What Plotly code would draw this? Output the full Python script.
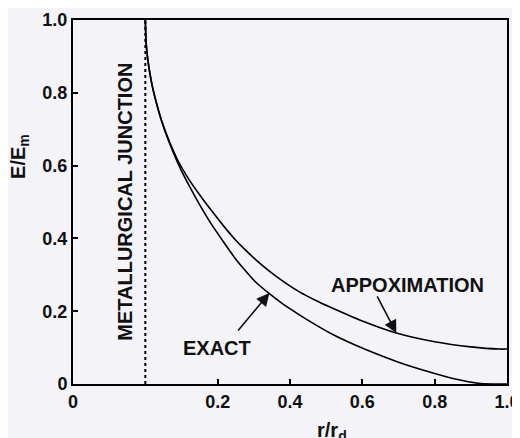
import plotly.graph_objects as go

# data (x in r/r_d measured from the junction; axis shown from -0.2 labelled "0")
x_exact = [0.0, 0.002, 0.006, 0.012, 0.02, 0.03, 0.045, 0.065, 0.09, 0.12, 0.15, 0.184, 0.215,
           0.247, 0.275, 0.302, 0.343, 0.38, 0.426, 0.47, 0.509, 0.56, 0.611, 0.70, 0.793,
           0.86, 0.92, 0.96, 1.0]
y_exact = [1.0, 0.94, 0.898, 0.857, 0.815, 0.774, 0.722, 0.666, 0.607, 0.547, 0.493, 0.437, 0.392,
           0.347, 0.313, 0.283, 0.248, 0.220, 0.190, 0.163, 0.141, 0.116, 0.094, 0.060, 0.031,
           0.013, 0.002, 0.0, 0.0]

x_approx = [0.0, 0.002, 0.006, 0.012, 0.02, 0.03, 0.045, 0.065, 0.09, 0.12, 0.15, 0.184, 0.219,
            0.25, 0.28, 0.316, 0.36, 0.426, 0.47, 0.509, 0.60, 0.694, 0.80, 0.90, 0.978, 1.0]
y_approx = [1.0, 0.94, 0.898, 0.857, 0.815, 0.775, 0.724, 0.670, 0.614, 0.563, 0.520, 0.475, 0.431,
            0.395, 0.365, 0.332, 0.297, 0.253, 0.230, 0.212, 0.173, 0.140, 0.116, 0.102, 0.096, 0.096]

junction_x = [0.0, 0.0]
junction_y = [0.0, 1.0]

x_tickvals = [-0.2, 0.2, 0.4, 0.6, 0.8, 1.0]
x_ticktext = ["0", "0.2", "0.4", "0.6", "0.8", "1.0"]
y_tickvals = [0, 0.2, 0.4, 0.6, 0.8, 1.0]
y_ticktext = ["0", "0.2", "0.4", "0.6", "0.8", "1.0"]

FONT = "Liberation Sans, Arial, sans-serif"
BG = "#f3f3f8"

fig = go.Figure()
fig.add_trace(go.Scatter(x=junction_x, y=junction_y, mode="lines",
                         line=dict(color="black", width=2, dash="dot"), showlegend=False))
fig.add_trace(go.Scatter(x=x_exact, y=y_exact, mode="lines",
                         line=dict(color="black", width=1.6, shape="spline", smoothing=0.6),
                         showlegend=False))
fig.add_trace(go.Scatter(x=x_approx, y=y_approx, mode="lines",
                         line=dict(color="black", width=1.6, shape="spline", smoothing=0.6),
                         showlegend=False))

bold = dict(family=FONT, size=20, color="#111111", weight="bold")

fig.add_annotation(x=-0.057, y=0.5, xref="x", yref="y", text="METALLURGICAL JUNCTION",
                   textangle=-90, showarrow=False, font=bold)
fig.add_annotation(x=0.198, y=0.099, xref="x", yref="y", text="EXACT",
                   showarrow=False, font=bold)
fig.add_annotation(x=0.724, y=0.272, xref="x", yref="y", text="APPOXIMATION",
                   showarrow=False, font=bold)
# arrows
fig.add_annotation(x=0.343, y=0.25, ax=0.253, ay=0.143, xref="x", yref="y",
                   axref="x", ayref="y", text="", showarrow=True,
                   arrowhead=2, arrowsize=1.6, arrowwidth=1.6, arrowcolor="#111111")
fig.add_annotation(x=0.694, y=0.14, ax=0.639, ay=0.245, xref="x", yref="y",
                   axref="x", ayref="y", text="", showarrow=True,
                   arrowhead=2, arrowsize=1.6, arrowwidth=1.6, arrowcolor="#111111")
# axis titles
fig.add_annotation(x=-0.122, y=0.624, xref="paper", yref="paper", text="E/E<sub>m</sub>",
                   textangle=-90, showarrow=False, font=bold, xanchor="center", yanchor="middle")
fig.add_annotation(x=0.597, y=-0.092, xref="paper", yref="paper", text="r/r<sub>d</sub>",
                   showarrow=False, font=bold, xanchor="center", yanchor="top")

axis_common = dict(showgrid=False, zeroline=False, showline=True, linecolor="black",
                   linewidth=2, mirror=True, ticks="inside", ticklen=5, tickwidth=1.5,
                   tickcolor="black", automargin=False,
                   tickfont=dict(family=FONT, size=18, color="#111111", weight="bold"))

fig.update_xaxes(range=[-0.2, 1.0], tickvals=x_tickvals, ticktext=x_ticktext, **axis_common)
fig.update_yaxes(range=[0, 1.0], tickvals=y_tickvals, ticktext=y_ticktext, **axis_common)

# page body adds an 8px margin; margins shifted to compensate
fig.update_layout(width=520, height=438, margin=dict(l=65, r=21, t=12, b=62),
                  paper_bgcolor=BG, plot_bgcolor=BG)

fig.write_html("out.html")
